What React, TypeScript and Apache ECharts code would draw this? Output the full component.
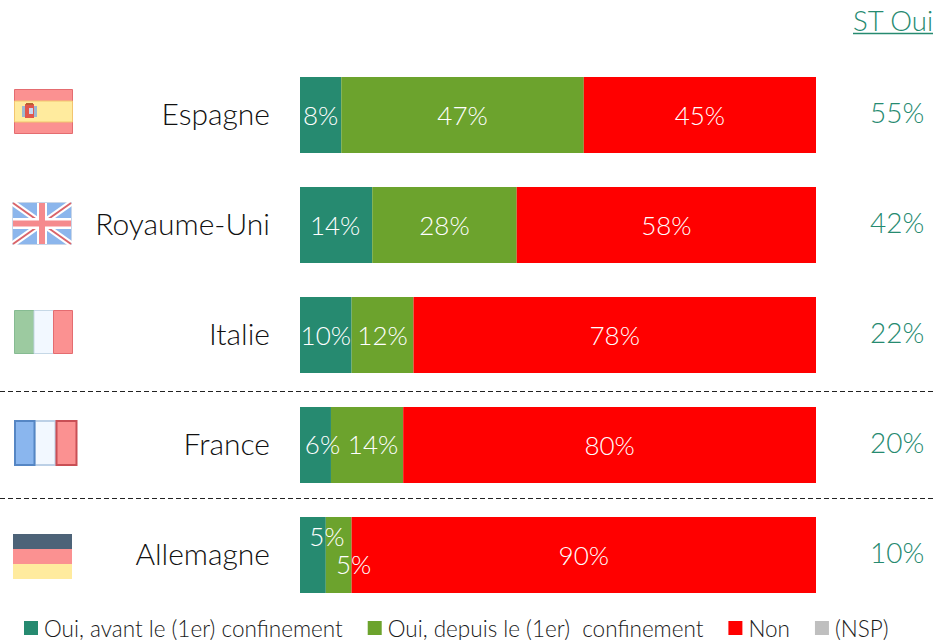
import React, { useEffect, useRef } from "react";
import * as echarts from "echarts";

const countries = ["Espagne", "Royaume-Uni", "Italie", "France", "Allemagne"];
const avant = [8, 14, 10, 6, 5];
const depuis = [47, 28, 12, 14, 5];
const non = [45, 58, 78, 80, 90];
const nsp = [0, 0, 0, 0, 0];
const stOui = ["55%", "42%", "22%", "20%", "10%"];
const avantOffsets = [[0, 0], [-1, 0], [0, 0], [7, -1], [14, -19]];
const depuisOffsets = [[0, 0], [0, 0], [0, 0], [6, -1], [15, 9]];

const FONT = "Lato";
const GREEN_D = "#268a70";
const GREEN_L = "#6ca32d";
const RED = "#ff0000";
const GREY = "#bfbfbf";
const TEAL = "#268a70";

const rect = (x: number, y: number, w: number, h: number, fill: string, stroke?: string, lineWidth = 1) => ({
  type: "rect",
  shape: { x, y, width: w, height: h },
  style: { fill, stroke: stroke || "none", lineWidth },
});
const line = (x1: number, y1: number, x2: number, y2: number, stroke: string, lineWidth: number, lineDash?: number[]) => ({
  type: "line",
  shape: { x1, y1, x2, y2 },
  style: { stroke, lineWidth, lineDash: lineDash || null },
});

const spain = [
  rect(14.5, 89.5, 58, 44, "#fb9191", "#e46c70"),
  rect(14.5, 101, 58, 21, "#ffeb9e", "#f2c56f"),
  rect(22, 106, 3, 11, "#9db8d0"),
  rect(34, 106, 3, 11, "#9db8d0"),
  rect(25, 104, 9, 14, "#e0564c"),
  rect(29, 108, 4, 6, "#c9d8f0"),
  rect(26, 103, 7, 2, "#b8602f"),
];
const uk = [
  rect(12.5, 202.5, 59, 42, "#8cb6ec", "#c8d6e8"),
  line(13, 203, 71, 244, "#ffffff", 6),
  line(71, 203, 13, 244, "#ffffff", 6),
  line(13, 203, 71, 244, "#d9646a", 2),
  line(71, 203, 13, 244, "#d9646a", 2),
  rect(37, 203, 10, 41, "#ffffff"),
  rect(13, 218, 58, 11, "#ffffff"),
  rect(39, 203, 6, 41, "#f58a8d"),
  rect(13, 220.5, 58, 6, "#f58a8d"),
];
const italy = [
  rect(14.5, 310.5, 19.5, 43, "#9ccaa0", "#86bb92"),
  rect(34, 310.5, 19.5, 43, "#f2f8ff", "#c6d8e6"),
  rect(53.5, 310.5, 19, 43, "#fb9191", "#e46c70"),
];
const france = [
  rect(34.5, 421, 21, 44, "#f2f8ff", "#bcd0e6", 2),
  rect(15, 421, 19.5, 44, "#8ab6ee", "#5586c4", 2),
  rect(56.5, 421, 20, 44, "#fb9191", "#c94f55", 2),
];
const germany = [
  rect(13, 534, 59, 15, "#4d6378"),
  rect(13, 549, 59, 15, "#fb9191"),
  rect(13, 564, 59, 15, "#ffeb9e"),
];

export default function App() {
  const ref = useRef<HTMLDivElement>(null);
  useEffect(() => {
    const chart = echarts.init(ref.current!, null, { renderer: "svg" });
    const labelBase = { show: true, color: "#ffffff", fontFamily: FONT, fontWeight: 300, fontSize: 26, position: "inside" };
    chart.setOption({
      animation: false,
      backgroundColor: "#ffffff",
      legend: {
        left: 19,
        top: 611,
        itemWidth: 14,
        itemHeight: 14,
        itemGap: 25,
        icon: "rect",
        textStyle: { fontFamily: FONT, fontWeight: 300, fontSize: 22.5, lineHeight: 24, color: "#1a1a1a", padding: [0, 0, 0, 1] },
      },
      grid: { left: 300, right: 117, top: 60, height: 550 },
      xAxis: { type: "value", min: 0, max: 100, show: false },
      yAxis: [
        {
          type: "category",
          inverse: true,
          data: countries,
          axisLine: { show: false },
          axisTick: { show: false },
          axisLabel: { margin: 30, color: "#111111", fontFamily: FONT, fontWeight: 300, fontSize: 30, verticalAlign: "bottom", lineHeight: 4 },
        },
        {
          type: "category",
          inverse: true,
          position: "right",
          data: stOui,
          axisLine: { show: false },
          axisTick: { show: false },
          axisLabel: { margin: 54, color: TEAL, fontFamily: FONT, fontWeight: 300, fontSize: 28, verticalAlign: "bottom", lineHeight: 6 },
        },
      ],
      series: [
        {
          name: "Oui, avant le (1er) confinement",
          type: "bar",
          stack: "t",
          barWidth: 76,
          itemStyle: { color: GREEN_D },
          data: avant.map((v, i) => ({ value: v, label: { ...labelBase, offset: avantOffsets[i], formatter: "{c}%" } })),
        },
        {
          name: "Oui, depuis le (1er)  confinement",
          type: "bar",
          stack: "t",
          barWidth: 76,
          itemStyle: { color: GREEN_L },
          data: depuis.map((v, i) => ({ value: v, label: { ...labelBase, offset: depuisOffsets[i], formatter: "{c}%" } })),
        },
        {
          name: "Non",
          type: "bar",
          stack: "t",
          barWidth: 76,
          itemStyle: { color: RED },
          label: { ...labelBase, formatter: "{c}%" },
          data: non,
        },
        {
          name: "(NSP)",
          type: "bar",
          stack: "t",
          barWidth: 76,
          itemStyle: { color: GREY },
          label: { show: false },
          data: nsp,
        },
      ],
      graphic: [
        {
          type: "text",
          style: { text: "ST Oui", x: 933, y: 20, align: "right", verticalAlign: "middle", fill: TEAL, fontFamily: FONT, fontWeight: 300, fontSize: 27.5 },
        },
        line(853, 33.5, 933, 33.5, TEAL, 1.4),
        line(0, 391.5, 933, 391.5, "#222222", 1.2, [5, 3]),
        line(0, 498.5, 933, 498.5, "#222222", 1.2, [5, 3]),
        ...spain,
        ...uk,
        ...italy,
        ...france,
        ...germany,
      ],
    });
    return () => chart.dispose();
  }, []);
  return <div ref={ref} style={{ position: "fixed", left: 0, top: 0, width: 933, height: 640 }} />;
}
